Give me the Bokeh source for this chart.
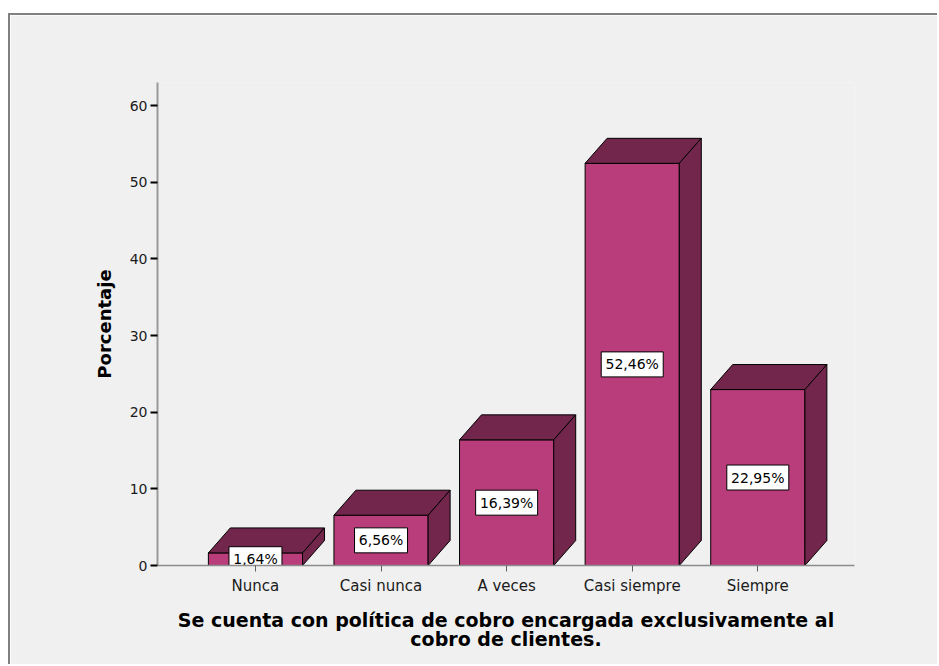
from bokeh.plotting import figure
from bokeh.models import Range1d, FixedTicker
from bokeh.embed import file_html
from bokeh.resources import INLINE
from bokeh.core.properties import value

categories = ["Nunca", "Casi nunca", "A veces", "Casi siempre", "Siempre"]
percentages = [1.64, 6.56, 16.39, 52.46, 22.95]
value_labels = ["1,64%", "6,56%", "16,39%", "52,46%", "22,95%"]
y_ticks = [0, 10, 20, 30, 40, 50, 60]
x_title = "Se cuenta con política de cobro encargada exclusivamente al\ncobro de clientes."
y_title = "Porcentaje"

FRONT = "#B93D7A"
DARK = "#72264C"
BG = "#F0F0F0"
FONT = "DejaVu Sans"

half_w = 0.375   # half bar width (category units)
dx = 0.175       # 3D depth, x (category units)
dy = 3.26        # 3D depth, y (percentage units)

xs = list(range(len(categories)))

p = figure(width=929, height=651, output_backend="svg", toolbar_location=None,
           x_range=Range1d(-0.78, 4.77), y_range=Range1d(0, 63),
           min_border_left=147, min_border_top=67, min_border_right=85,
           min_border_bottom=101)
p.margin = (13, 0, 0, 8)
p.styles = {"border-top": "2px solid #808080", "border-left": "2px solid #808080"}
p.background_fill_color = BG
p.border_fill_color = BG
p.outline_line_color = None
p.grid.visible = False

# front faces
p.quad(left=[x - half_w for x in xs], right=[x + half_w for x in xs],
       bottom=0, top=percentages, fill_color=FRONT, line_color="black", line_width=1)
# top faces
p.patches(xs=[[x - half_w, x - half_w + dx, x + half_w + dx, x + half_w] for x in xs],
          ys=[[v, v + dy, v + dy, v] for v in percentages],
          fill_color=DARK, line_color="black", line_width=1)
# side faces
p.patches(xs=[[x + half_w, x + half_w, x + half_w + dx, x + half_w + dx] for x in xs],
          ys=[[0, v, v + dy, dy] for v in percentages],
          fill_color=DARK, line_color="black", line_width=1)

# value labels
mids = [v / 2 for v in percentages]
box_w = [9 * len(s) + 8 for s in value_labels]
p.rect(x=xs, y=mids, width=box_w, height=25, width_units="screen", height_units="screen",
       fill_color="white", line_color="black", line_width=1)
p.text(x=xs, y=mids, text=value_labels, text_align="center", text_baseline="middle",
       text_font=value(FONT), text_font_size="14px", text_color="black")

# axes
p.xaxis.ticker = FixedTicker(ticks=xs)
p.xaxis.major_label_overrides = {i: c for i, c in enumerate(categories)}
p.xaxis.axis_line_color = "#8c8c8c"
p.xaxis.axis_line_width = 1.5
p.xaxis.major_tick_line_color = "#606060"
p.xaxis.major_tick_out = 6
p.xaxis.major_tick_in = 0
p.xaxis.minor_tick_line_color = None
p.xaxis.major_label_standoff = 5
p.xaxis.major_label_text_font = FONT
p.xaxis.major_label_text_font_size = "15px"
p.xaxis.major_label_text_color = "#1a1a1a"
p.xaxis.axis_label = x_title
p.xaxis.axis_label_text_font = FONT
p.xaxis.axis_label_text_font_style = "bold"
p.xaxis.axis_label_text_font_size = "19px"
p.xaxis.axis_label_text_line_height = 0.9
p.xaxis.axis_label_text_color = "black"
p.xaxis.axis_label_standoff = 11

p.yaxis.ticker = FixedTicker(ticks=y_ticks)
p.yaxis.axis_line_color = "#9a9a9a"
p.yaxis.axis_line_width = 2
p.yaxis.major_tick_line_color = "black"
p.yaxis.major_tick_line_width = 2
p.yaxis.major_tick_out = 7
p.yaxis.major_tick_in = 0
p.yaxis.minor_tick_line_color = None
p.yaxis.major_label_standoff = 3
p.yaxis.major_label_text_font = FONT
p.yaxis.major_label_text_font_size = "14px"
p.yaxis.major_label_text_color = "#1a1a1a"
p.yaxis.axis_label = y_title
p.yaxis.axis_label_text_font = FONT
p.yaxis.axis_label_text_font_style = "bold"
p.yaxis.axis_label_text_font_size = "18px"
p.yaxis.axis_label_text_color = "black"
p.yaxis.axis_label_standoff = 12

open("out.html", "w").write(file_html(p, INLINE))
